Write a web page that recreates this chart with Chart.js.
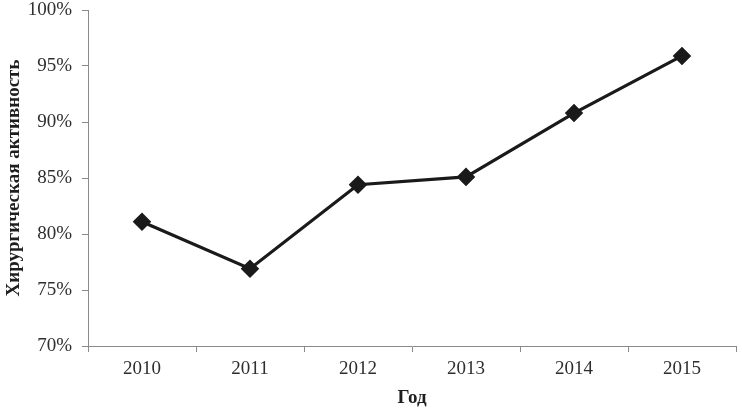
<!DOCTYPE html>
<html><head><meta charset="utf-8">
<script src="https://cdn.jsdelivr.net/npm/chart.js@4/dist/chart.umd.min.js"></script>
<style>html,body{margin:0;padding:0;background:#fff}#w{width:742px;height:415px}</style>
</head><body><div id="w"><canvas id="c"></canvas></div>
<script>
const years = ['2010','2011','2012','2013','2014','2015'];
const activity = [81.1, 76.9, 84.4, 85.1, 90.8, 95.9];
const yTicks = [70, 75, 80, 85, 90, 95, 100];
const xTitle = 'Год';
const yTitle = 'Хирургическая активность';

const serif = '"Liberation Serif", "Times New Roman", serif';
new Chart(document.getElementById('c'), {
  type: 'line',
  data: { labels: years, datasets: [{
    data: activity,
    borderColor: '#1a1a1a', backgroundColor: '#1a1a1a',
    borderWidth: 3.2, pointStyle: 'rectRot', pointRadius: 7, pointHoverRadius: 7,
    tension: 0, fill: false
  }]},
  options: {
    responsive: true, maintainAspectRatio: false, animation: false,
    devicePixelRatio: 1,
    layout: { autoPadding: false, padding: { left: 0, right: 6, top: 10, bottom: 0 } },
    plugins: { legend: { display: false }, tooltip: { enabled: false } },
    scales: {
      x: {
        offset: true,
        grid: { display: true, offset: true, drawOnChartArea: false, drawTicks: true, tickLength: 6, color: '#8a8a8a' },
        border: { display: true, color: '#8a8a8a', width: 1 },
        ticks: { color: '#2e2e2e', font: { family: serif, size: 19, lineHeight: 1 }, padding: 8 },
        title: { display: true, text: xTitle, color: '#1e1e1e', font: { family: serif, size: 19, weight: 'bold', lineHeight: 1 }, padding: { top: 4, bottom: 7 } },
        afterFit: s => { s.height = 415 - 346; s.paddingLeft = 0; s.paddingRight = 0; }
      },
      y: {
        min: 70, max: 100,
        afterBuildTicks: s => { s.ticks = yTicks.map(v => ({ value: v })); },
        grid: { display: true, drawOnChartArea: false, drawTicks: true, tickLength: 6, color: '#8a8a8a' },
        border: { display: true, color: '#8a8a8a', width: 1 },
        ticks: { color: '#2e2e2e', font: { family: serif, size: 19, lineHeight: 1 }, padding: 10, callback: v => v + '%' },
        title: { display: true, text: yTitle, color: '#1e1e1e', font: { family: serif, size: 19, weight: 'bold', lineHeight: 1 }, padding: { top: 5, bottom: 0, left: 0, right: 0 } },
        afterFit: s => { s.width = 88; s.paddingTop = 0; s.paddingBottom = 0; }
      }
    }
  }
});
</script></body></html>
